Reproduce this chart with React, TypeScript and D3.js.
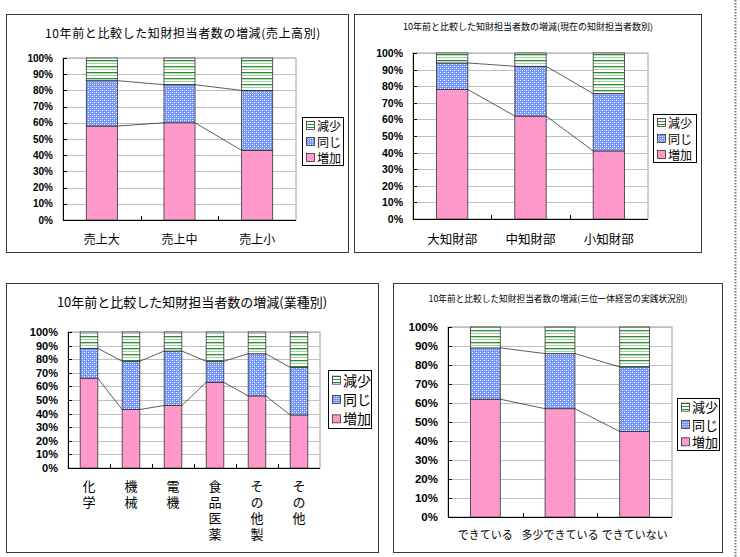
import React from "react";
import * as d3 from "d3";

// 10年前と比較した知財担当者数の増減 — four stacked 100% bar charts
const seriesKeys = ["増加", "同じ", "減少"];

const salesCats = ["売上大", "売上中", "売上小"];
const salesInc = [58, 60, 43];
const salesSame = [28, 23.5, 37];
const salesDec = [14, 16.5, 20];

const staffCats = ["大知財部", "中知財部", "小知財部"];
const staffInc = [78, 62, 41];
const staffSame = [16, 30, 34.5];
const staffDec = [6, 8, 24.5];

const industryCats = ["化学", "機械", "電機", "食品医薬", "その他製", "その他"];
const industryInc = [66, 43, 46, 63, 53, 39];
const industrySame = [22, 35.5, 40, 15.5, 31, 35];
const industryDec = [12, 21.5, 14, 21.5, 16, 26];

const practiceCats = ["できている", "多少できている", "できていない"];
const practiceInc = [62, 57, 45];
const practiceSame = [27, 29, 34];
const practiceDec = [11, 14, 21];

const yTicks = [0, 10, 20, 30, 40, 50, 60, 70, 80, 90, 100];

const FONT = "'Noto Sans CJK JP', 'Noto Sans', sans-serif";
const NUM_FONT = "'Liberation Sans', Arial, sans-serif";
const fills = ["#ff99cc", "url(#patSame)", "url(#patDec)"];
const swatchFills = ["#ff99cc", "url(#patSameSw)", "url(#patDecSw)"];

type Box = { x: number; y: number; w: number; h: number };
type ChartProps = {
  frame: Box;
  plot: { l: number; r: number; t: number; b: number };
  band: number;
  title: string;
  titleX: number;
  titleY: number;
  titleSize: number;
  titleSpacing?: number;
  tickSize: number;
  cats: string[];
  inc: number[];
  same: number[];
  dec: number[];
  labelY: number;
  labelSize: number;
  vertical?: boolean;
  legend: Box & { size: number };
};

function StackedChart(p: ChartProps) {
  const rows = p.cats.map((c, i) => ({
    cat: c,
    増加: p.inc[i],
    同じ: p.same[i],
    減少: p.dec[i],
  }));
  const stacked = d3.stack<any>().keys(seriesKeys)(rows);

  const x = d3
    .scaleBand()
    .domain(p.cats)
    .range([p.plot.l, p.plot.r])
    .paddingInner(1 - p.band)
    .paddingOuter((1 - p.band) / 2);
  const y = d3.scaleLinear().domain([0, 100]).range([p.plot.b, p.plot.t]);
  const bw = x.bandwidth();
  const step = x.step();

  return (
    <g>
      <rect x={p.frame.x + 0.5} y={p.frame.y + 0.5} width={p.frame.w} height={p.frame.h} fill="#fff" stroke="#3a3a3a" />
      <text
        x={p.titleX}
        y={p.titleY}
        fontSize={p.titleSize}
        letterSpacing={p.titleSpacing ?? 0}
        textAnchor="middle"
        dominantBaseline="central"
        fontFamily={FONT}
      >
        {p.title}
      </text>

      {/* plot area and gridlines */}
      <rect x={p.plot.l} y={p.plot.t} width={p.plot.r - p.plot.l} height={p.plot.b - p.plot.t} fill="#fff" stroke="#a0a0a0" strokeWidth={1} />
      {yTicks.map((t) => (
        <line key={t} x1={p.plot.l} x2={p.plot.r} y1={Math.round(y(t)) + 0.5} y2={Math.round(y(t)) + 0.5} stroke="#c0c0c0" />
      ))}

      {/* bars */}
      {stacked.map((layer, li) =>
        layer.map((d, i) => (
          <rect
            key={li + "-" + i}
            x={x(p.cats[i])!}
            y={y(d[1])}
            width={bw}
            height={y(d[0]) - y(d[1])}
            fill={fills[li]}
            stroke="#333"
            strokeWidth={0.8}
          />
        ))
      )}

      {/* series lines between bars */}
      {stacked.slice(0, 2).map((layer, li) =>
        layer.slice(0, -1).map((d, i) => (
          <line
            key={"s" + li + "-" + i}
            x1={x(p.cats[i])! + bw}
            y1={y(d[1])}
            x2={x(p.cats[i + 1])!}
            y2={y(layer[i + 1][1])}
            stroke="#333"
            strokeWidth={0.8}
          />
        ))
      )}

      {/* axes */}
      <line x1={p.plot.l + 0.5} x2={p.plot.l + 0.5} y1={p.plot.t} y2={p.plot.b} stroke="#000" />
      <line x1={p.plot.l} x2={p.plot.r} y1={p.plot.b + 0.5} y2={p.plot.b + 0.5} stroke="#000" />
      {yTicks.map((t) => (
        <g key={"yt" + t}>
          <line x1={p.plot.l} x2={p.plot.l + 4} y1={Math.round(y(t)) + 0.5} y2={Math.round(y(t)) + 0.5} stroke="#000" />
          <text
            x={p.plot.l - 10}
            y={y(t)}
            fontSize={p.tickSize}
            fontWeight="bold"
            textAnchor="end"
            dominantBaseline="central"
            fontFamily={NUM_FONT}
          >
            {t}%
          </text>
        </g>
      ))}
      {p.cats.slice(1).map((c) => (
        <line key={"xt" + c} x1={Math.round(x(c)! - (step - bw) / 2) + 0.5} x2={Math.round(x(c)! - (step - bw) / 2) + 0.5} y1={p.plot.b - 4} y2={p.plot.b} stroke="#000" />
      ))}

      {/* category labels; 業種 names are set top-to-bottom */}
      {p.cats.map((c) => {
        const cx = x(c)! + bw / 2;
        if (p.vertical) {
          return (
            <text
              key={"l" + c}
              x={cx}
              y={p.labelY - p.labelSize / 2 - 1}
              fontSize={p.labelSize}
              letterSpacing={3}
              style={{ writingMode: "vertical-rl" }}
              fontFamily={FONT}
            >
              {c}
            </text>
          );
        }
        return (
          <text key={"l" + c} x={cx} y={p.labelY} fontSize={p.labelSize} textAnchor="middle" dominantBaseline="central" fontFamily={FONT}>
            {c}
          </text>
        );
      })}

      {/* legend, 減少 on top */}
      <rect x={p.legend.x + 0.5} y={p.legend.y + 0.5} width={p.legend.w} height={p.legend.h} fill="#fff" stroke="#000" />
      {[2, 1, 0].map((si, k) => {
        const rowH = p.legend.h / 3;
        const cy = p.legend.y + rowH * (k + 0.5);
        return (
          <g key={"lg" + si}>
            <rect x={p.legend.x + 4.5} y={cy - 3.5} width={8} height={8} fill={swatchFills[si]} stroke="#333" strokeWidth={0.8} />
            <text x={p.legend.x + 15} y={cy} fontSize={p.legend.size} dominantBaseline="central" fontFamily={FONT}>
              {seriesKeys[si]}
            </text>
          </g>
        );
      })}
    </g>
  );
}

export default function App() {
  return (
    <svg width={740} height={557} style={{ position: "absolute", left: 0, top: 0 }}>
      <defs>
        <pattern id="patDec" width={6} height={6} patternUnits="userSpaceOnUse">
          <rect width={6} height={6} fill="#fff" />
          <rect y={0} width={6} height={1.3} fill="#2e8b2e" />
          <rect y={3} width={6} height={1} fill="#9fd39f" />
        </pattern>
        <pattern id="patSame" width={4} height={4} patternUnits="userSpaceOnUse">
          <rect width={4} height={4} fill="#7496fa" />
          <rect x={0} y={0} width={1} height={1} fill="#ffffff" />
          <rect x={2} y={2} width={1} height={1} fill="#ffffff" />
          <rect x={2} y={0} width={1} height={1} fill="#b4c6fd" />
          <rect x={0} y={2} width={1} height={1} fill="#b4c6fd" />
        </pattern>
        <pattern id="patDecSw" width={8} height={3} patternUnits="userSpaceOnUse">
          <rect width={8} height={3} fill="#fff" />
          <rect y={1} width={8} height={1} fill="#2e8b2e" />
        </pattern>
        <pattern id="patSameSw" width={2} height={2} patternUnits="userSpaceOnUse">
          <rect width={2} height={2} fill="#7496fa" />
          <rect width={1} height={1} fill="#d8e0ff" />
        </pattern>
      </defs>
      <rect width={740} height={557} fill="#fff" />

      <StackedChart
        frame={{ x: 6, y: 14, w: 342, h: 238 }}
        plot={{ l: 63, r: 296, t: 58, b: 220 }}
        band={0.4}
        title="10年前と比較した知財担当者数の増減(売上高別)"
        titleX={183}
        titleY={32}
        titleSize={12}
        titleSpacing={0.6}
        tickSize={10}
        cats={salesCats}
        inc={salesInc}
        same={salesSame}
        dec={salesDec}
        labelY={238}
        labelSize={12}
        legend={{ x: 302, y: 117, w: 41, h: 48, size: 12 }}
      />
      <StackedChart
        frame={{ x: 354, y: 14, w: 347, h: 238 }}
        plot={{ l: 413, r: 648, t: 53, b: 219 }}
        band={0.4}
        title="10年前と比較した知財担当者数の増減(現在の知財担当者数別)"
        titleX={528}
        titleY={26}
        titleSize={9}
        tickSize={10.5}
        cats={staffCats}
        inc={staffInc}
        same={staffSame}
        dec={staffDec}
        labelY={238}
        labelSize={12.5}
        legend={{ x: 653, y: 114, w: 43, h: 48, size: 12 }}
      />
      <StackedChart
        frame={{ x: 6, y: 283, w: 372, h: 269 }}
        plot={{ l: 68, r: 320, t: 332, b: 468 }}
        band={0.42}
        title="10年前と比較した知財担当者数の増減(業種別)"
        titleX={192}
        titleY={301}
        titleSize={13}
        tickSize={11}
        cats={industryCats}
        inc={industryInc}
        same={industrySame}
        dec={industryDec}
        labelY={487}
        labelSize={13}
        vertical
        legend={{ x: 328, y: 370, w: 43, h: 58, size: 14 }}
      />
      <StackedChart
        frame={{ x: 393, y: 283, w: 329, h: 269 }}
        plot={{ l: 448, r: 672, t: 327, b: 517 }}
        band={0.4}
        title="10年前と比較した知財担当者数の増減(三位一体経営の実践状況別)"
        titleX={558}
        titleY={298}
        titleSize={8.7}
        tickSize={11.5}
        cats={practiceCats}
        inc={practiceInc}
        same={practiceSame}
        dec={practiceDec}
        labelY={534}
        labelSize={11}
        legend={{ x: 677, y: 398, w: 42, h: 52, size: 13 }}
      />

      <line x1={735.5} x2={735.5} y1={0} y2={557} stroke="#777" strokeWidth={2} strokeDasharray="1.5 1.5" />
    </svg>
  );
}
